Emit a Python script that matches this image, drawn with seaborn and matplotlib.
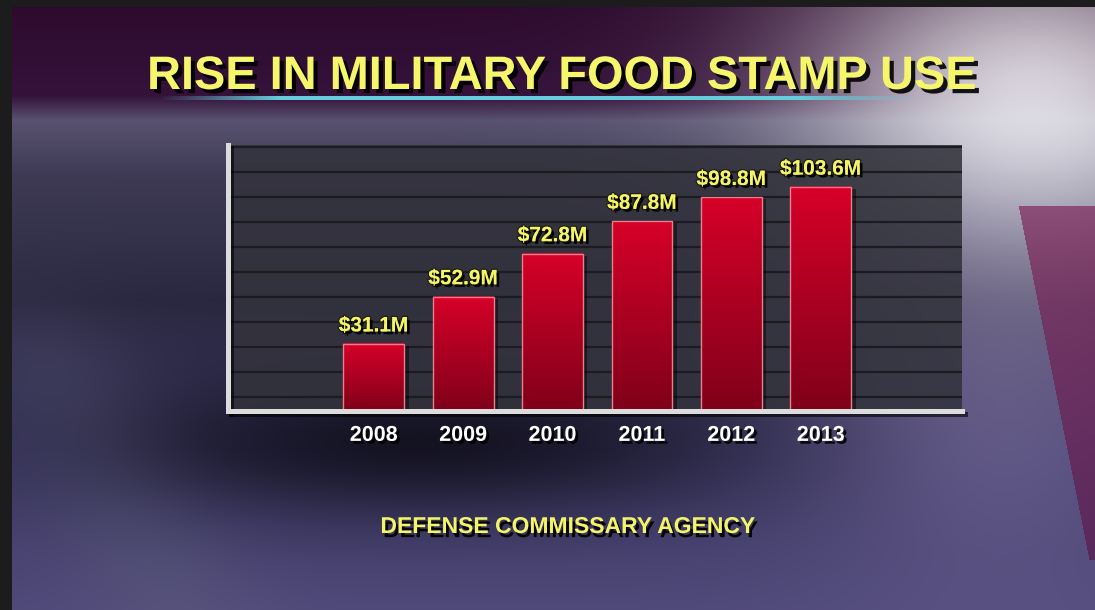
import numpy as np
import pandas as pd
import seaborn as sns
import matplotlib.pyplot as plt
import matplotlib.patheffects as pe

years = ['2008', '2009', '2010', '2011', '2012', '2013']
spending = [31.1, 52.9, 72.8, 87.8, 98.8, 103.6]   # $ millions
value_labels = ['$%.1fM' % v for v in spending]
title = 'RISE IN MILITARY FOOD STAMP USE'
source = 'DEFENSE COMMISSARY AGENCY'

df = pd.DataFrame({'year': years, 'spending': spending})

sns.set_style('white')
plt.rcParams['font.family'] = ['Liberation Sans', 'DejaVu Sans']

W, H = 1095, 610
fig = plt.figure(figsize=(W / 100, H / 100), dpi=100)

# ---- tv-style background -------------------------------------------------
yy, xx = np.mgrid[0:H, 0:W].astype(float)
ys = [0, 95, 120, 175, 300, 450, 610]
r = np.interp(yy, ys, [45, 52, 88, 62, 42, 60, 80])
g = np.interp(yy, ys, [10, 18, 82, 58, 40, 56, 74])
b = np.interp(yy, ys, [45, 58, 112, 84, 64, 100, 122])
img = np.dstack([r, g, b]) / 255.0
# lighter streak on the far left
fade = 1 / (1 + np.exp(-(yy - 330) / 30))
streak = np.exp(-(((xx - 60 - (yy - 380) * 0.5) / 90) ** 2)) * fade
img = img * (1 - streak[..., None] * 0.35) + streak[..., None] * 0.35 * np.array([0.38, 0.38, 0.5])
# dark shadow under the chart
dark = np.exp(-(((xx - 420) / 330) ** 2 + ((yy - 445) / 70) ** 2))
img = img * (1 - dark[..., None] * 0.65)
# white glow top right
glow = np.exp(-(((xx - 1030) / 230) ** 2 + ((yy - 110) / 170) ** 2))
img = img * (1 - glow[..., None] * 0.9) + glow[..., None] * 0.9 * np.array([0.94, 0.94, 0.95])
# lilac haze right middle
haze = np.exp(-(((xx - 1000) / 190) ** 2 + ((yy - 390) / 190) ** 2))
img = img * (1 - haze[..., None] * 0.45) + haze[..., None] * 0.45 * np.array([0.58, 0.52, 0.72])
# magenta panel at right edge
panel = (xx > 1018 + (yy - 205) * 0.2) & (yy > 205) & (yy < 560)
shade = np.clip((yy - 205) / 350, 0, 1)[..., None]
pcol = np.array([0.5, 0.16, 0.36]) * (1 - shade) + np.array([0.36, 0.1, 0.3]) * shade
img[panel] = (img * 0.3 + pcol * 0.7)[panel]
# cyan underline under title
for x0 in range(160, 920):
    a = min(1.0, (x0 - 160) / 120, (920 - x0) / 120)
    img[96:100, x0] = img[96:100, x0] * (1 - a) + a * np.array([0.4, 0.8, 0.86])
# black frame left / top
img[:, :12] = 0.11
img[:7, :] = 0.11
bg = fig.add_axes([0, 0, 1, 1])
bg.imshow(np.clip(img, 0, 1), aspect='auto', extent=[0, W, H, 0])
bg.set_axis_off()

# ---- chart ---------------------------------------------------------------
ax = fig.add_axes([228 / W, (H - 411) / H, (962 - 228) / W, (411 - 145) / H])
ax.set_facecolor((0.2, 0.2, 0.24, 0.88))
sns.barplot(data=df, x='year', y='spending', color='#b0001f', width=0.68,
            saturation=1, ax=ax, zorder=3)

grad = np.linspace(0, 1, 100)[:, None]
top_c = np.array([0.84, 0.0, 0.16])
bot_c = np.array([0.5, 0.0, 0.1])
cols = top_c * (1 - grad) + bot_c * grad
for p in ax.patches[:len(years)]:
    x0, y0 = p.get_x(), p.get_y()
    w, h = p.get_width(), p.get_height()
    # soft shadow on the right side of each bar
    ax.bar(x0 + w / 2 + 0.05, h, width=w, bottom=y0 - 1, color='black', alpha=0.45,
           linewidth=0, zorder=3.2)
    ax.imshow(cols[:, None, :].repeat(2, axis=1), extent=[x0, x0 + w, y0, y0 + h],
              aspect='auto', zorder=3.5, origin='upper')
    p.set_facecolor('none')
    p.set_edgecolor('#e8808c')
    p.set_linewidth(1)
    p.set_zorder(4)

ax.set_xlim(-1.63, 6.58)
ax.set_ylim(0, 123)
ax.set_yticks(6.5 + 11.56 * np.arange(11))
ax.grid(axis='y', color='#1b1b22', linewidth=1.6, zorder=1)
ax.set_axisbelow(True)
ax.set_xlabel('')
ax.set_ylabel('')
ax.set_yticklabels([])
for s in ['top', 'right']:
    ax.spines[s].set_visible(False)
for s in ['left', 'bottom']:
    ax.spines[s].set_color('#dcdcdc')
    ax.spines[s].set_linewidth(3.6)
    ax.spines[s].set_zorder(6)
    ax.spines[s].set_path_effects([pe.SimpleLineShadow(offset=(2, -2), shadow_color='black', alpha=0.6), pe.Normal()])
ax.tick_params(axis='both', length=0)
ax.tick_params(axis='x', pad=10, labelcolor='white', labelsize=15.5)

shadow = [pe.withSimplePatchShadow(offset=(2, -2), shadow_rgbFace='black', alpha=0.9)]
for lab in ax.get_xticklabels():
    lab.set_fontweight('bold')
    lab.set_path_effects(shadow)

ax.bar_label(ax.containers[0], labels=value_labels, padding=6, color='#f4f46a',
             fontsize=15, fontweight='bold', zorder=7,
             path_effects=[pe.withStroke(linewidth=2, foreground='#202010'),
                           pe.withSimplePatchShadow(offset=(2, -2), shadow_rgbFace='black', alpha=0.9)])

fig.text(562 / W, 1 - 89 / H, title, ha='center', va='baseline', color='#f6f66c',
         fontsize=33.8, fontweight='bold',
         path_effects=[pe.withSimplePatchShadow(offset=(3, -3), shadow_rgbFace='black', alpha=0.9)])
fig.text(567 / W, 1 - 533 / H, source, ha='center', va='baseline', color='#f4f46a',
         fontsize=16.5, fontweight='bold',
         path_effects=[pe.withSimplePatchShadow(offset=(2, -3), shadow_rgbFace='black', alpha=0.9)])

fig.savefig('out.png', dpi=100)
